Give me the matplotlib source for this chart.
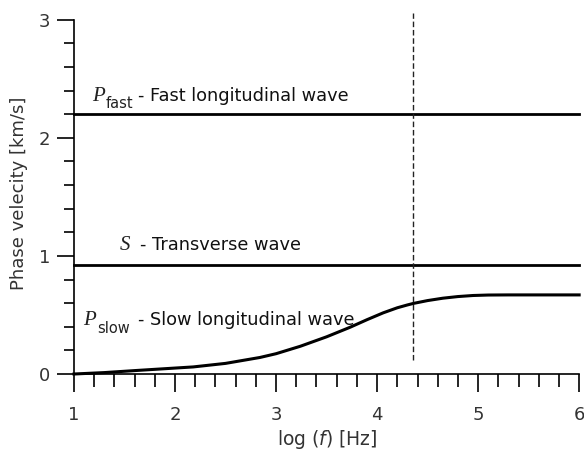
import numpy as np
import matplotlib
matplotlib.use("Agg")
from matplotlib import pyplot as plt
from matplotlib.ticker import MultipleLocator

plt.rcParams['font.family'] = 'DejaVu Sans'
plt.rcParams['mathtext.fontset'] = 'custom'
plt.rcParams['mathtext.rm'] = 'DejaVu Sans'
plt.rcParams['mathtext.it'] = 'DejaVu Sans:italic'

# data
v_fast = 2.2
v_shear = 0.92
f_crit = 4.36
logf_slow = [1.0, 1.3, 1.62, 1.9, 2.18, 2.5, 2.84, 3.0, 3.24, 3.5, 3.73, 3.9, 4.06,
             4.2, 4.3, 4.36, 4.5, 4.65, 4.8, 4.95, 5.1, 5.3, 6.0]
v_slow = [0.0, 0.012, 0.03, 0.045, 0.06, 0.09, 0.14, 0.172, 0.235, 0.315, 0.395, 0.46,
          0.518, 0.561, 0.585, 0.598, 0.622, 0.642, 0.656, 0.665, 0.669, 0.67, 0.67]
x_ticks = [1, 2, 3, 4, 5, 6]
y_ticks = [0, 1, 2, 3]

# wave labels: symbol, subscript, description
wave_sym = ['P', 'S', 'P']
wave_sub = ['fast', '', 'slow']
wave_txt = ['- Fast longitudinal wave', '- Transverse wave', '- Slow longitudinal wave']
sym_x = [1.178, 1.455, 1.089]
sub_x = [1.317, None, 1.228]
txt_x = [1.634, 1.653, 1.634]
base_y = [2.316, 1.048, 0.414]

fig = plt.figure(figsize=(5.84, 4.55), dpi=100)
ax = fig.add_axes([0.1267, 0.178, 0.865, 0.794])

ax.plot([1, 6], [v_fast, v_fast], color='black', lw=2.0, clip_on=False)
ax.plot([1, 6], [v_shear, v_shear], color='black', lw=2.0, clip_on=False)
ax.plot(logf_slow, v_slow, color='black', lw=2.2, clip_on=False,
        solid_joinstyle='round')
ax.plot([f_crit, f_crit], [0.12, 3.06], color='#222222', lw=1.0,
        dashes=(4, 2), clip_on=False)

for i in range(3):
    ax.text(sym_x[i], base_y[i], wave_sym[i], family='Liberation Serif',
            fontstyle='italic', fontsize=15, color='#222222')
    if wave_sub[i]:
        ax.annotate(wave_sub[i], (sub_x[i], base_y[i]), xytext=(0, -5.5),
                    textcoords='offset points', fontsize=10.5, color='#222222')
    ax.text(txt_x[i], base_y[i], wave_txt[i], fontsize=12.8, color='#111111')

ax.set_xlim(1, 6)
ax.set_ylim(0, 3.06)
ax.spines['top'].set_visible(False)
ax.spines['right'].set_visible(False)
ax.spines['left'].set_bounds(0, 3)
ax.spines['left'].set_linewidth(1.2)
ax.spines['bottom'].set_linewidth(1.2)

ax.set_xticks(x_ticks)
ax.set_yticks(y_ticks)
ax.xaxis.set_minor_locator(MultipleLocator(0.2))
ax.yaxis.set_minor_locator(MultipleLocator(0.2))
ax.tick_params(axis='x', which='major', direction='out', length=13, width=1.2,
               labelsize=13, pad=10, labelcolor='#333333')
ax.tick_params(axis='x', which='minor', direction='out', length=9, width=1.2)
ax.tick_params(axis='y', which='major', direction='out', length=12, width=1.2,
               labelsize=13, pad=5, labelcolor='#333333')
ax.tick_params(axis='y', which='minor', direction='out', length=7, width=1.2)

ax.set_xlabel(r'log ($\mathit{f}$) [Hz]', fontsize=13.5, color='#333333', labelpad=3)
ax.set_ylabel('Phase velecity [km/s]', fontsize=13, color='#333333', labelpad=8)

fig.savefig('out.png', dpi=100)
